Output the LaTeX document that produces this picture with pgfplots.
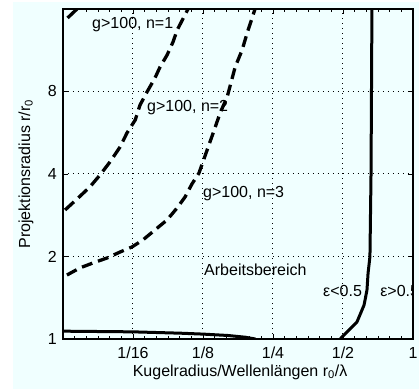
\documentclass[border=0pt]{standalone}
\usepackage{pgfplots}
\pgfplotsset{compat=1.18}
\usepackage{fontspec}
\setmainfont{Liberation Sans}
\definecolor{bgc}{RGB}{240,255,255}

\begin{document}
\fontsize{16bp}{19bp}\selectfont
\begin{tikzpicture}
\useasboundingbox (-63bp,-50bp) rectangle (356bp,339bp);
\fill[white] (-63bp,-50bp) rectangle (356bp,339bp);
\fill[bgc] (-50bp,-50bp) rectangle (356bp,337bp);
\begin{axis}[
  at={(0bp,0bp)}, anchor=south west,
  scale only axis, width=350bp, height=330bp,
  xmode=log, ymode=log,
  xmin=0.03125, xmax=1, ymin=1, ymax=16,
  xtick={0.0625,0.125,0.25,0.5,1}, xticklabels={1/16,1/8,1/4,1/2,1},
  ytick={1,2,4,8}, yticklabels={1,2,4,8},
  minor xtick={0.035078,0.039373,0.044194,0.049606,0.055681,
               0.070156,0.078745,0.088388,0.099213,0.111362,
               0.140312,0.157490,0.176777,0.198425,0.222725,
               0.280624,0.314980,0.353553,0.396850,0.445449,
               0.561231,0.629961,0.707107,0.793701,0.890899},
  minor ytick={},
  grid=major,
  minor grid style={draw=none},
  major grid style={black, line width=1bp, dash pattern=on 1.4bp off 3.6bp},
  tick align=inside, major tick length=5bp, minor tick length=3bp,
  axis line style={line width=1.5bp},
  tick style={black, line width=0.8bp},
  /pgf/number format/assume math mode=true,
  xticklabel style={anchor=base, yshift=-19bp, inner sep=0pt},
  yticklabel style={anchor=east, xshift=-6bp, inner sep=0pt},
  xlabel={Kugelradius/Wellenlängen r\textsubscript{0}/λ},
  ylabel={Projektionsradius r/r\textsubscript{0}},
  xlabel style={at={(axis description cs:0.506,-0.1)}, anchor=center, inner sep=0pt},
  ylabel style={at={(axis description cs:-0.106,0.5)}, anchor=center, inner sep=0pt},
  every axis plot/.append style={black, line join=round},
]
% g>100, n=1
\addplot[line width=3.3bp, dash pattern=on 12bp off 6bp] coordinates {
(0.0319,2.957) (0.0363,3.27) (0.0408,3.59) (0.0451,3.97) (0.0497,4.42)
(0.0550,5.02) (0.0589,5.65) (0.0639,6.30) (0.0670,7.14) (0.0718,7.97)
(0.0777,8.96) (0.0817,9.83) (0.0876,10.87) (0.0929,12.13) (0.0968,13.41)
(0.1078,16.0)};
% upper-left branch
\addplot[line width=3.3bp] coordinates {(0.0327,14.84) (0.0359,16.0)};
% g>100, n=2
\addplot[line width=3.3bp, dash pattern=on 11bp off 6bp] coordinates {
(0.0325,1.712) (0.0369,1.816) (0.0420,1.894) (0.0483,1.975) (0.0550,2.077)
(0.0618,2.166) (0.0689,2.297) (0.0777,2.50) (0.0876,2.72) (0.0968,3.01)
(0.1047,3.30) (0.1121,3.68) (0.1201,4.03) (0.1316,5.02) (0.1383,5.65)
(0.1481,6.68) (0.1588,7.64) (0.1719,9.83) (0.1842,11.34) (0.1936,13.08)
(0.2093,16.0)};
% bottom solid
\addplot[line width=3bp] coordinates {
(0.03125,1.068) (0.0625,1.062) (0.1,1.05) (0.125,1.042) (0.16,1.03)
(0.19,1.015) (0.21,1.0)};
% right solid
\addplot[line width=3bp] coordinates {
(0.486,1.0) (0.574,1.153) (0.616,1.33) (0.634,1.509) (0.641,1.74)
(0.653,2.0) (0.660,4.0) (0.666,16.0)};
\node[anchor=west, inner sep=0pt] at (rel axis cs:0.083,0.952) {g>100, n=1};
\node[anchor=west, inner sep=0pt] at (rel axis cs:0.24,0.70) {g>100, n=2};
\node[anchor=west, inner sep=0pt] at (rel axis cs:0.40,0.442) {g>100, n=3};
\node[anchor=west, inner sep=0pt] at (rel axis cs:0.403,0.209) {Arbeitsbereich};
\node[anchor=west, inner sep=0pt] at (rel axis cs:0.743,0.145) {ε<0.5};
\node[anchor=west, inner sep=0pt] at (rel axis cs:0.906,0.145) {ε>0.5};
\end{axis}
\end{tikzpicture}
\end{document}
